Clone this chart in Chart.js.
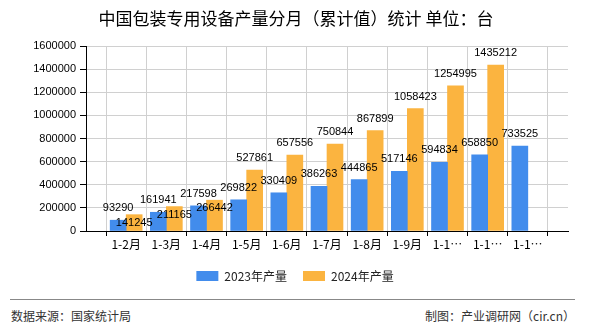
<!DOCTYPE html>
<html>
<head>
<meta charset="utf-8">
<script src="https://cdn.jsdelivr.net/npm/chart.js@4.4.0/dist/chart.umd.min.js"></script>
<style>
  html, body { margin: 0; padding: 0; background: #fff; }
  #wrap { position: relative; width: 590px; height: 330px; overflow: hidden; font-family: "Noto Sans CJK SC", sans-serif; }
  #box { position: absolute; left: 0; top: 0; width: 590px; height: 295px; }
  #title { position: absolute; left: 0; top: 7px; width: 592px; text-align: center; font-size: 17px; line-height: 22px; color: #000; }
  #sep { position: absolute; left: 10px; right: 15px; top: 299px; border-top: 1px solid #888; }
  .foot { position: absolute; top: 307px; font-size: 12px; color: #333; line-height: 18px; }
</style>
</head>
<body>
<div id="wrap">
  <div id="box"><canvas id="c"></canvas></div>
  <div id="title">中国包装专用设备产量分月（累计值）统计 单位：台</div>
  <div id="sep"></div>
  <div class="foot" style="left:11px">数据来源：国家统计局</div>
  <div class="foot" style="right:15px">制图：产业调研网（cir.cn）</div>
</div>
<script>
// 数据（单位：台）
const months = ['1-2月', '1-3月', '1-4月', '1-5月', '1-6月', '1-7月', '1-8月', '1-9月', '1-10月', '1-11月', '1-12月'];
const output2023 = [93290, 161941, 217598, 269822, 330409, 386263, 444865, 517146, 594834, 658850, 733525];
const output2024 = [141245, 211165, 266442, 527861, 657556, 750844, 867899, 1058423, 1254995, 1435212, null];
const seriesNames = ['2023年产量', '2024年产量'];
const yTicks = [0, 200000, 400000, 600000, 800000, 1000000, 1200000, 1400000, 1600000];

// 两端留空位置，让刻度落在类目中心
const labels = [''].concat(months, ['']);
const pad = arr => [null].concat(arr, [null]);

// 柱顶数值标签，重叠时橙色标签下移
const barLabels = {
    id: 'barLabels',
    afterDatasetsDraw(chart) {
        const ctx = chart.ctx;
        ctx.save();
        ctx.font = '11px "Liberation Sans", sans-serif';
        ctx.fillStyle = '#000';
        ctx.textAlign = 'center';
        ctx.textBaseline = 'middle';
        const m0 = chart.getDatasetMeta(0).data;
        const m1 = chart.getDatasetMeta(1).data;
        labels.forEach((_, i) => {
            const v0 = chart.data.datasets[0].data[i];
            const v1 = chart.data.datasets[1].data[i];
            let y0 = null;
            if (v0 != null) {
                y0 = m0[i].y - 12;
                ctx.fillText(String(v0), m0[i].x, y0);
            }
            if (v1 != null) {
                let y1 = m1[i].y - 12;
                if (y0 != null && Math.abs(y1 - y0) < 14) y1 = m1[i].y + 8;
                ctx.fillText(String(v1), m1[i].x, y1);
            }
        });
        ctx.restore();
    }
};

new Chart(document.getElementById('c'), {
    type: 'bar',
    data: {
        labels: labels,
        datasets: [{
            label: seriesNames[0],
            data: pad(output2023),
            backgroundColor: '#428cec',
            barThickness: 16
        }, {
            label: seriesNames[1],
            data: pad(output2024),
            backgroundColor: '#fbb440',
            barThickness: 16
        }]
    },
    options: {
        responsive: true,
        maintainAspectRatio: false,
        animation: false,
        layout: { padding: { left: 22, right: 22, top: 46, bottom: 3 } },
        plugins: {
            title: { display: false },
            legend: {
                position: 'bottom',
                labels: {
                    boxWidth: 22,
                    boxHeight: 10,
                    padding: 16,
                    color: '#222',
                    font: { size: 12, family: '"Noto Sans CJK SC", sans-serif' }
                }
            },
            tooltip: { enabled: false }
        },
        scales: {
            x: {
                offset: false,
                grid: { color: '#d0d0d0', tickColor: '#000', tickLength: 5 },
                border: { color: '#000' },
                ticks: {
                    color: '#000',
                    autoSkip: false,
                    maxRotation: 0,
                    padding: 1,
                    font: { size: 12, family: '"Noto Sans CJK SC", sans-serif' },
                    callback(value) {
                        const s = this.getLabelForValue(value);
                        return s.length > 4 ? s.slice(0, 3) + '…' : s;
                    }
                },
                afterFit(axis) { axis.height = 23; }
            },
            y: {
                min: 0,
                max: 1600000,
                afterBuildTicks(axis) { axis.ticks = yTicks.map(v => ({ value: v })); },
                grid: { color: '#d0d0d0', tickColor: '#000', tickLength: 6 },
                border: { color: '#000' },
                ticks: {
                    color: '#000',
                    padding: 4,
                    font: { size: 11, family: '"Liberation Sans", sans-serif' },
                    callback: v => String(v)
                },
                afterFit(axis) { axis.width = 64; }
            }
        }
    },
    plugins: [barLabels]
});
</script>
</body>
</html>
